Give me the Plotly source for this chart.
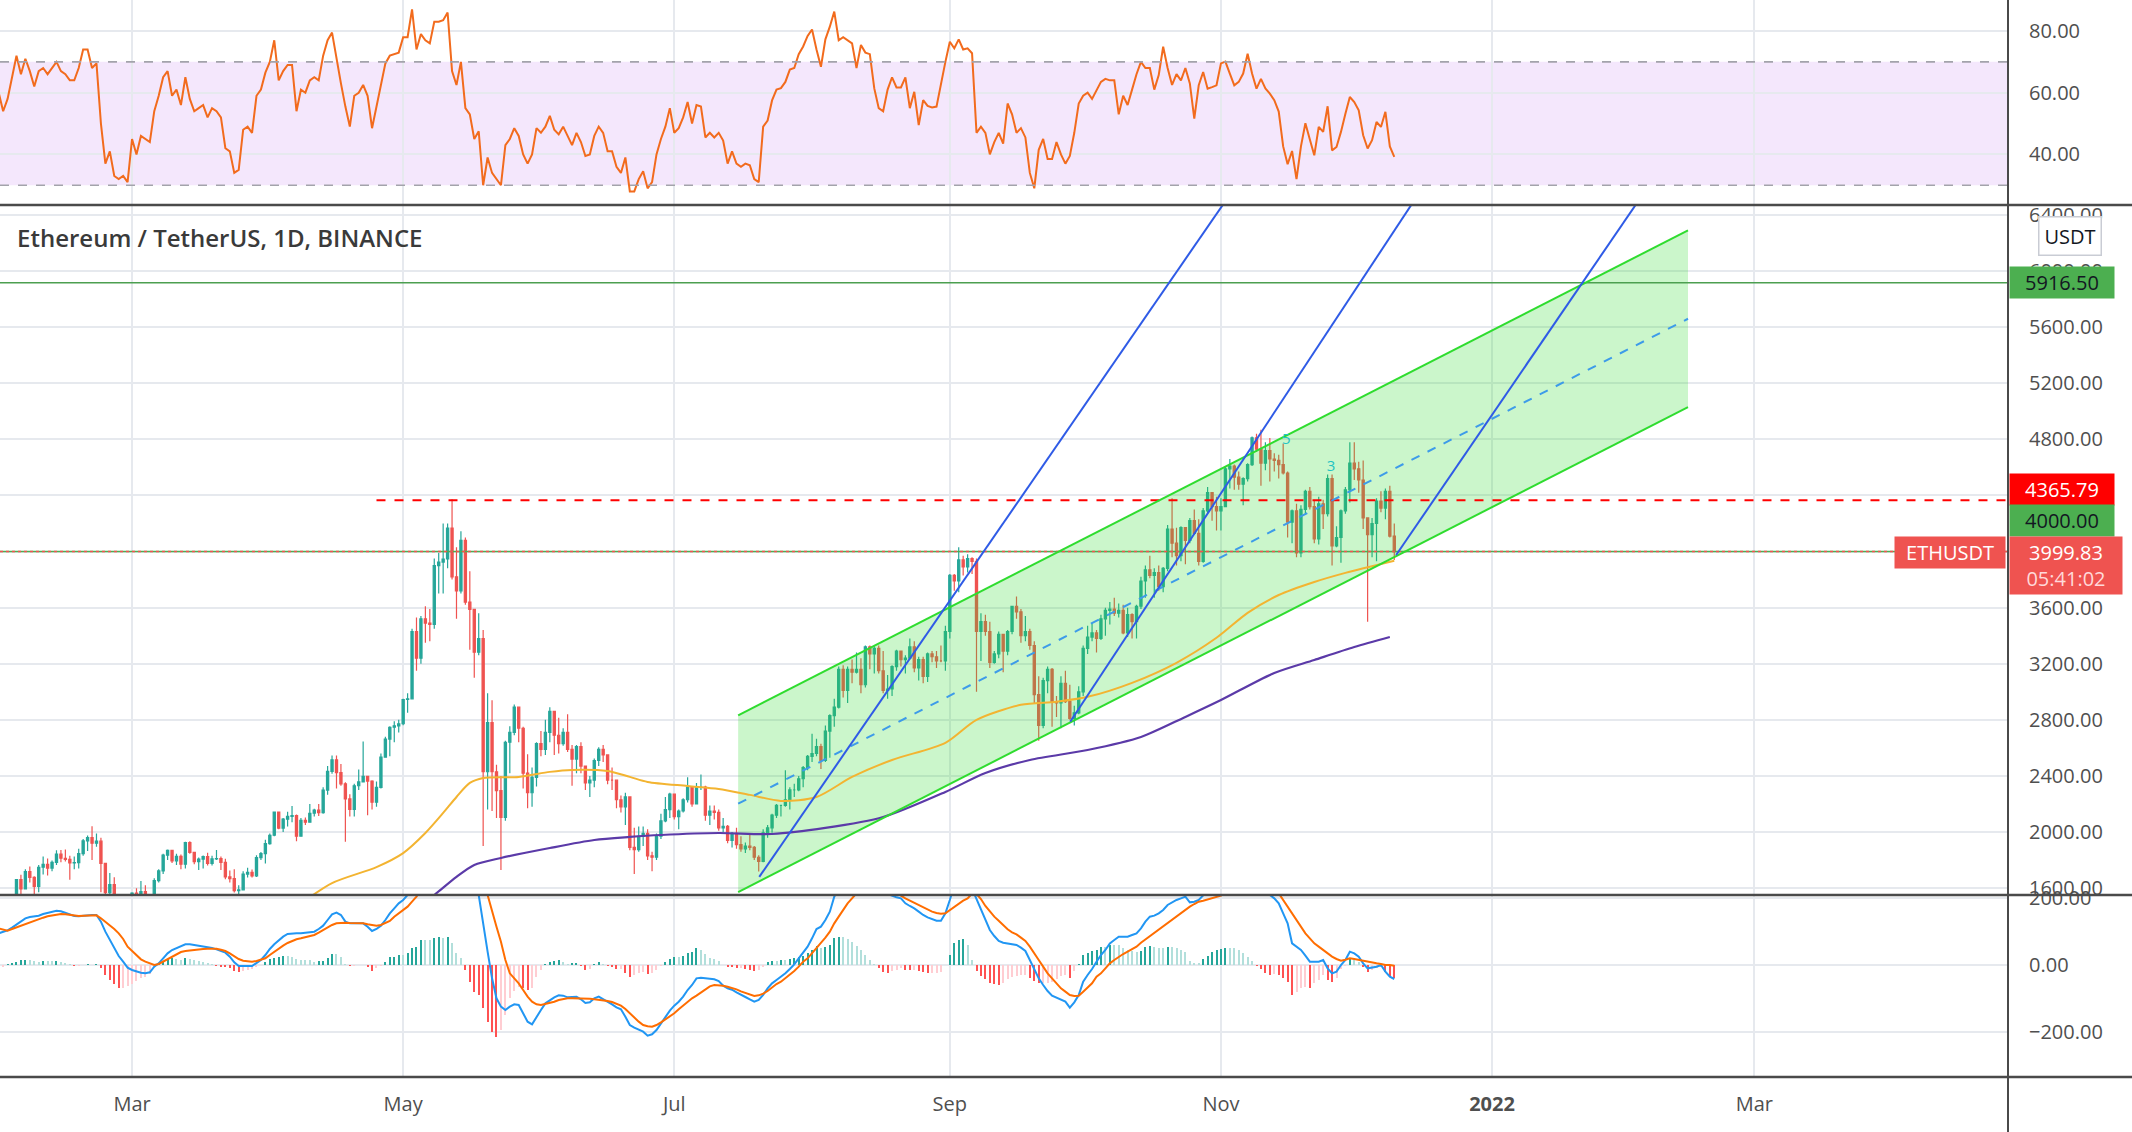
import pandas as pd
import plotly.graph_objects as go

W, H = 2132, 1132

# ---------------- candle data: ETH/USDT daily, 2021-01-30 .. 2021-12-10 ----------------
first_day = "2021-01-30"
last_day = "2021-12-10"
first_open = 1377.0

close = [
    # Jan 30 - Feb 28
    1382, 1314, 1369, 1515, 1660, 1594, 1718, 1677, 1613, 1749, 1769, 1743, 1784, 1842, 1813,
    1805, 1780, 1782, 1846, 1937, 1960, 1920, 1935, 1777, 1567, 1625, 1478, 1447, 1459, 1416,
    # Mar
    1564, 1493, 1575, 1541, 1533, 1654, 1723, 1835, 1869, 1795, 1826, 1771, 1924, 1855, 1789, 1807,
    1825, 1776, 1808, 1810, 1783, 1680, 1668, 1582, 1588, 1700, 1713, 1688, 1817, 1846, 1918,
    # Apr
    1977, 2142, 2028, 2092, 2112, 2118, 1970, 2084, 2070, 2134, 2156, 2139, 2299, 2432, 2515,
    2424, 2344, 2236, 2162, 2330, 2357, 2397, 2363, 2213, 2318, 2534, 2663, 2747, 2757, 2772,
    # May
    2945, 2950, 3430, 3240, 3520, 3490, 3480, 3900, 3925, 3947, 4168, 3820, 3720, 4080, 3640, 3588,
    3282, 3380, 2430, 2780, 2430, 2295, 2105, 2640, 2710, 2890, 2740, 2420, 2280, 2390, 2630,
    # Jun
    2590, 2710, 2860, 2690, 2630, 2710, 2590, 2520, 2610, 2470, 2350, 2370, 2510, 2590, 2550,
    2370, 2370, 2230, 2180, 2250, 1890, 1875, 1970, 1990, 1830, 1820, 1970, 2080, 2160, 2270,
    # Jul
    2110, 2150, 2230, 2320, 2200, 2320, 2320, 2120, 2150, 2140, 2030, 2040, 1940, 1990, 1910, 1880,
    1900, 1890, 1820, 1790, 1995, 2030, 2120, 2190, 2190, 2230, 2300, 2300, 2380, 2460, 2540,
    # Aug
    2560, 2610, 2510, 2720, 2830, 2890, 3160, 3010, 3160, 3140, 3160, 3050, 3320, 3270, 3310, 3150,
    3010, 3020, 3180, 3290, 3230, 3240, 3320, 3170, 3230, 3110, 3270, 3250, 3220, 3220, 3430,
    # Sep
    3830, 3790, 3940, 3890, 3950, 3930, 3430, 3500, 3430, 3210, 3270, 3410, 3290, 3430, 3610,
    3570, 3400, 3430, 3330, 2980, 2760, 3080, 3160, 2930, 2920, 3060, 2930, 2810, 2850, 3000,
    # Oct
    3310, 3390, 3420, 3380, 3520, 3580, 3590, 3560, 3580, 3420, 3550, 3500, 3610, 3790, 3870, 3830,
    3850, 3750, 3880, 4160, 4060, 3970, 4170, 4080, 4220, 4130, 3930, 4290, 4420, 4320, 4290,
    # Nov
    4320, 4590, 4610, 4530, 4480, 4520, 4620, 4810, 4730, 4630, 4720, 4660, 4650, 4620, 4560,
    4210, 4290, 3990, 4300, 4430, 4320, 4090, 4340, 4270, 4520, 4040, 4100, 4290, 4440, 4630,
    # Dec 1 - 10
    4590, 4510, 4240, 4120, 4200, 4360, 4310, 4430, 4110, 3999.83,
]
high = [
    1437, 1390, 1376, 1540, 1664, 1695, 1735, 1755, 1685, 1765, 1825, 1812, 1797, 1870, 1872,
    1875, 1830, 1825, 1880, 1950, 1975, 2042, 1990, 1960, 1780, 1708, 1677, 1548, 1530, 1472,
    1570, 1600, 1650, 1620, 1548, 1670, 1735, 1845, 1875, 1870, 1845, 1839, 1930, 1935, 1860, 1818,
    1832, 1852, 1830, 1872, 1825, 1810, 1725, 1735, 1620, 1720, 1745, 1733, 1835, 1858, 1945,
    1990, 2145, 2145, 2100, 2145, 2185, 2125, 2100, 2104, 2200, 2166, 2200, 2320, 2470, 2545,
    2545, 2485, 2355, 2270, 2345, 2445, 2645, 2395, 2370, 2360, 2560, 2680, 2755, 2790, 2800,
    2950, 2990, 3450, 3530, 3540, 3610, 3590, 3950, 3990, 4200, 4200, 4372, 4030, 4145, 4100, 3860,
    3590, 3560, 3440, 2990, 2940, 2480, 2400, 2650, 2755, 2910, 2890, 2750, 2555, 2460, 2640,
    2720, 2800, 2890, 2860, 2815, 2740, 2840, 2620, 2620, 2640, 2475, 2400, 2525, 2605, 2620,
    2555, 2460, 2370, 2260, 2280, 2250, 2030, 2040, 2040, 2020, 1860, 1990, 2130, 2250, 2280,
    2270, 2160, 2240, 2390, 2320, 2350, 2410, 2330, 2190, 2190, 2160, 2100, 2050, 2000, 2030, 1970,
    1925, 1990, 1900, 1835, 2020, 2050, 2130, 2200, 2195, 2440, 2320, 2345, 2400, 2470, 2550,
    2700, 2665, 2630, 2760, 2840, 2950, 3180, 3190, 3180, 3230, 3280, 3240, 3330, 3330, 3330, 3330,
    3290, 3120, 3190, 3300, 3280, 3260, 3380, 3360, 3250, 3250, 3280, 3290, 3290, 3330, 3470,
    3840, 3840, 4030, 3970, 3980, 3960, 3950, 3560, 3550, 3500, 3290, 3430, 3400, 3440, 3610,
    3680, 3590, 3540, 3450, 3360, 3110, 3100, 3180, 3170, 2970, 3110, 3150, 3050, 2900, 3040,
    3330, 3470, 3490, 3440, 3550, 3600, 3640, 3670, 3630, 3620, 3600, 3560, 3620, 3820, 3900, 3970,
    3880, 3900, 3890, 4190, 4380, 4170, 4180, 4150, 4240, 4300, 4230, 4310, 4460, 4420, 4390,
    4380, 4610, 4660, 4620, 4570, 4530, 4630, 4820, 4840, 4868, 4780, 4810, 4700, 4690, 4770,
    4570, 4300, 4340, 4330, 4440, 4460, 4370, 4390, 4370, 4550, 4550, 4180, 4300, 4460, 4780,
    4780, 4640, 4650, 4240, 4240, 4380, 4430, 4450, 4470, 4200,
]
low = [
    1320, 1270, 1300, 1366, 1507, 1540, 1595, 1640, 1550, 1570, 1697, 1690, 1720, 1765, 1785,
    1790, 1660, 1735, 1740, 1830, 1865, 1800, 1895, 1570, 1370, 1512, 1460, 1400, 1430, 1290,
    1412, 1460, 1490, 1500, 1440, 1500, 1640, 1700, 1800, 1780, 1765, 1735, 1740, 1845, 1770, 1730,
    1740, 1762, 1762, 1800, 1730, 1663, 1640, 1569, 1547, 1590, 1676, 1675, 1680, 1800, 1775,
    1910, 1970, 2020, 2000, 2040, 2070, 1935, 1970, 2050, 2070, 2110, 2115, 2130, 2265, 2415,
    2310, 2330, 1930, 2110, 2110, 2300, 2355, 2120, 2160, 2180, 2310, 2530, 2540, 2640, 2710,
    2762, 2850, 2950, 3150, 3200, 3350, 3360, 3450, 3700, 3700, 3880, 3800, 3520, 3700, 3620, 3300,
    3100, 3260, 1900, 2160, 2150, 2100, 1730, 2080, 2420, 2690, 2640, 2310, 2170, 2180, 2325,
    2540, 2550, 2640, 2550, 2560, 2615, 2570, 2330, 2420, 2420, 2300, 2250, 2320, 2470, 2500,
    2340, 2300, 2170, 2140, 2050, 1870, 1700, 1860, 1900, 1800, 1720, 1800, 1950, 2070, 2100,
    2090, 2020, 2140, 2210, 2180, 2200, 2300, 2080, 2050, 2090, 2010, 2000, 1920, 1890, 1880, 1860,
    1850, 1870, 1800, 1718, 1785, 1960, 1995, 2100, 2110, 2180, 2160, 2250, 2290, 2320, 2440,
    2500, 2540, 2450, 2500, 2530, 2750, 2880, 2960, 2920, 3060, 3130, 2990, 3030, 3160, 3130, 3130,
    2990, 2950, 2970, 3150, 3180, 3130, 3230, 3140, 3080, 3060, 3070, 3210, 3170, 3210, 3150,
    3380, 3720, 3710, 3830, 3850, 3840, 3000, 3220, 3400, 3170, 3200, 3240, 3140, 3260, 3410,
    3520, 3350, 3360, 3300, 2920, 2650, 2740, 2990, 2750, 2820, 2740, 2920, 2800, 2760, 2840,
    2970, 3270, 3360, 3280, 3370, 3400, 3480, 3540, 3530, 3410, 3390, 3380, 3380, 3590, 3670, 3810,
    3670, 3720, 3710, 3860, 3960, 3900, 3930, 3910, 4060, 4120, 3900, 3920, 4270, 4220, 4150,
    4150, 4320, 4450, 4440, 4440, 4330, 4500, 4610, 4710, 4470, 4580, 4500, 4570, 4520, 4550,
    4100, 4060, 3960, 3960, 4260, 4300, 4060, 4050, 4160, 4250, 3900, 4030, 3920, 4270, 4350,
    4510, 4420, 4160, 3500, 3960, 3930, 4280, 4230, 4100, 3940,
]

# ---------------- RSI ----------------
rsi = [
    60, 54, 58, 65, 72, 66, 71, 67, 62, 67, 68, 66, 68, 70, 67, 66, 64, 64, 68, 74, 74, 68, 69.5,
    50, 37, 41, 33, 32, 33, 31,
    45, 40, 46, 45, 44, 54, 59, 65, 67, 59, 61, 56, 65, 58, 54, 55, 56, 52, 55, 54, 52, 42, 41,
    34, 35, 48, 49, 47, 59, 61, 66.5,
    70, 77, 64, 67, 69, 69, 54, 61, 60, 64, 65, 64, 72, 77, 79.5, 71, 63, 55.5, 49, 59, 60, 62.5,
    59, 48.5, 55.5, 63.5, 69.5, 72, 72.5, 73,
    78, 78, 87, 74, 79, 77, 76, 83, 83, 83.5, 86, 67, 62.5, 70, 55, 53, 45, 47.5, 30, 39, 34, 32,
    30, 43, 45, 48.5, 46, 40, 37, 40, 48.5,
    47, 49, 52.5, 48, 46.5, 49, 46, 43, 47, 44, 39.5, 40, 46, 49, 47, 41, 41, 36, 34, 39, 28, 28,
    32, 34.5, 29, 31, 40, 45, 49, 55,
    47, 48.5, 52, 57, 50, 56, 55.5, 45.5, 47, 45.5, 47, 44.5, 37, 41, 37, 36, 37, 36.5, 32, 31,
    49, 51, 57.5, 61, 61.5, 63.5, 67.5, 68, 72.5, 75, 78.4,
    80.5, 74, 68.4, 77.3, 81.4, 86.3, 77, 78, 77, 76, 68, 75.5, 73, 72.5, 61.4, 55, 54, 61, 65,
    61.7, 61.7, 65, 55, 60.3, 49.5, 57.6, 55.7, 55.2, 55.5, 63, 70,
    76.5, 74.4, 77.3, 74, 74.4, 72.8, 47, 49, 47, 40, 44, 47, 43.5, 56.5, 53, 47, 48.5, 45.5, 34,
    29, 41.5, 45, 38.5, 38.5, 44, 40, 37, 39.5, 47, 56.5,
    59, 60, 58, 60.6, 63.5, 64.5, 64, 64, 53, 59, 56, 61, 66, 70, 68, 68, 61, 65.7, 74.9, 68, 62.5,
    66, 64, 68, 63, 51.6, 62.4, 66.7, 61.3, 61.8, 62.4,
    69.5, 70.1, 66.2, 62.4, 63.5, 66.2, 72.6, 66.2, 61.3, 64.5, 61.4, 59.7, 57.6, 53.9, 42.6, 36.8,
    41.1, 32, 42.6, 50.1, 44.8, 39.7, 48.9, 47.3, 55.6, 41.3, 42.4, 47.3, 53.2, 58.6,
    57, 54.3, 46.2, 41.9, 44.6, 50.5, 48.9, 53.8, 42.6, 39.2,
]

# ---------------- MACD ----------------
macd_line = [
    95, 100, 104, 112, 122, 132, 140, 144, 145, 148,
    153, 157, 160, 163, 161, 157, 153, 147, 146, 148,
    150, 150, 150, 130, 100, 75, 50, 27, 10, -8,
    -15, -20, -23, -25, -22, -5, 5, 20, 35, 45,
    50, 55, 62, 62, 60, 58, 56, 54, 51, 47,
    42, 37, 25, 8, -3, -4, -3, -3, 5, 15,
    30, 48, 62, 75, 85, 93, 95, 95, 95, 97,
    99, 100, 108, 118, 135, 152, 157, 150, 130, 125,
    125, 125, 125, 115, 102, 108, 118, 135, 155, 170,
    185, 195, 210, 240, 260, 300, 320, 340, 370, 400,
    420, 450, 450, 430, 420, 380, 330, 270, 210, 120,
    40, -40, -100, -125, -135, -125, -118, -120, -145, -170,
    -178, -155, -135, -115, -105, -97, -91, -92, -97, -96,
    -95, -103, -114, -112, -100, -95, -102, -110, -118, -127,
    -133, -155, -180, -188, -194, -200, -212, -208, -195, -175,
    -155, -137, -122, -110, -95, -75, -60, -40, -38, -40,
    -43, -43, -48, -62, -70, -74, -82, -88, -96, -103,
    -110, -105, -90, -70, -55, -45, -35, -25, -12, 2,
    20, 38, 55, 80, 108, 115, 135, 160, 205, 230,
    250, 262, 270, 272, 270, 262, 255, 245, 235, 222,
    213, 207, 203, 200, 185, 177, 170, 160, 150, 143,
    137, 133, 133, 155, 195, 240, 260, 270, 260, 230,
    195, 165, 135, 105, 87, 72, 67, 65, 63, 60,
    52, 42, 15, -15, -40, -60, -78, -92, -98, -103,
    -110, -128, -112, -90, -50, -30, -12, 10, 30, 45,
    65, 75, 85, 85, 85, 90, 95, 110, 130, 145,
    148, 155, 165, 180, 188, 195, 200, 205, 188, 190,
    195, 210, 225, 240, 250, 255, 265, 275, 285, 290,
    290, 285, 275, 260, 245, 225, 210, 200, 185, 155,
    125, 65, 55, 45, 28, 10, 10, 10, 15, -10,
    -25, -20, 0, 15, 40, 35, 25, 5, -10, -8,
    -5, 0, -20, -35, -42,
]
signal_line = [
    110, 106, 103, 108, 113, 118, 124, 129, 134, 138,
    142, 146, 149, 151, 153, 152, 150, 148, 147, 148,
    149, 150, 149, 140, 130, 120, 108, 95, 78, 55,
    42, 28, 17, 10, 4, 0, 3, 10, 18, 25,
    32, 39, 42, 44, 46, 47, 48, 49, 50, 49,
    46, 42, 35, 26, 18, 13, 11, 10, 12, 15,
    20, 30, 40, 50, 58, 66, 72, 77, 80, 83,
    85, 90, 97, 105, 113, 120, 125, 127, 127, 126,
    126, 125, 125, 122, 119, 118, 120, 125, 132, 145,
    155, 165, 175, 190, 205, 225, 245, 265, 290, 315,
    340, 365, 385, 395, 400, 395, 380, 350, 300, 250,
    210, 160, 115, 70, 15, -25, -40, -55, -75, -95,
    -110, -118, -120, -117, -115, -110, -105, -102, -100, -100,
    -100, -100, -100, -101, -103, -104, -105, -108, -111, -116,
    -122, -132, -145, -158, -170, -180, -184, -185, -180, -172,
    -163, -155, -145, -133, -122, -110, -100, -92, -82, -72,
    -64, -60, -60, -62, -65, -68, -73, -79, -84, -89,
    -93, -91, -86, -78, -67, -57, -50, -40, -30, -18,
    -5, 10, 20, 35, 50, 65, 82, 100, 125, 145,
    165, 185, 200, 215, 225, 233, 240, 243, 244, 242,
    236, 226, 217, 208, 200, 193, 186, 179, 172, 166,
    160, 156, 154, 155, 165, 175, 185, 193, 200, 214,
    213, 198, 177, 160, 145, 133, 120, 107, 98, 92,
    82, 72, 55, 33, 15, -5, -25, -40, -55, -70,
    -80, -90, -93, -92, -80, -67, -55, -35, -25, -10,
    5, 15, 25, 33, 40, 47, 55, 67, 77, 87,
    95, 105, 115, 125, 135, 145, 155, 165, 175, 183,
    190, 193, 197, 200, 204, 208, 215, 225, 235, 245,
    255, 260, 262, 262, 258, 250, 240, 228, 215, 195,
    175, 155, 135, 115, 95, 80, 65, 55, 45, 35,
    25, 18, 13, 16, 20, 18, 15, 12, 10, 8,
    5, 3, 0, 0, -2,
]

# ---------------- moving averages ----------------
ma100_dates = ["2021-04-08", "2021-04-15", "2021-04-25", "2021-05-01", "2021-05-06", "2021-05-10",
               "2021-05-13", "2021-05-16", "2021-05-19", "2021-05-27", "2021-06-03", "2021-06-08",
               "2021-06-16", "2021-06-21", "2021-06-25", "2021-07-04", "2021-07-11", "2021-07-18",
               "2021-07-25", "2021-08-02", "2021-08-10", "2021-08-19", "2021-08-31", "2021-09-07",
               "2021-09-17", "2021-09-25", "2021-10-02", "2021-10-12", "2021-10-22", "2021-10-31",
               "2021-11-07", "2021-11-14", "2021-11-22", "2021-11-29", "2021-12-10"]
ma100_vals = [1490, 1636, 1750, 1850, 1993, 2136, 2250, 2350, 2386, 2393, 2429, 2443, 2435, 2393,
              2357, 2328, 2307, 2265, 2222, 2250, 2393, 2514, 2636, 2800, 2907, 2929, 2964, 3064,
              3207, 3385, 3563, 3690, 3783, 3848, 3935]
ma200_dates = ["2021-05-05", "2021-05-08", "2021-05-13", "2021-05-17", "2021-05-23", "2021-06-03",
               "2021-06-13", "2021-06-21", "2021-06-28", "2021-07-11", "2021-07-23", "2021-08-04",
               "2021-08-17", "2021-08-31", "2021-09-09", "2021-09-19", "2021-10-02", "2021-10-14",
               "2021-10-24", "2021-11-01", "2021-11-13", "2021-11-22", "2021-12-01", "2021-12-09"]
ma200_vals = [1480, 1551, 1680, 1765, 1815, 1886, 1943, 1965, 1979, 1993, 1986, 2029, 2107, 2286,
              2421, 2514, 2585, 2678, 2821, 2941, 3134, 3227, 3319, 3391]

# ---------------- drawings ----------------
channel_dates = ["2021-07-15 09:00", "2022-02-14 02:00"]
channel_lower = [1572, 5030]
channel_upper = [2832, 6290]
channel_mid = [2202, 5660]

trend_x0 = ["2021-07-20 03:00", "2021-09-28 02:00", "2021-12-10 10:00"]
trend_y0 = [1680, 2786, 3975]
trend_x1 = ["2021-11-03 08:00", "2021-12-15 16:00", "2022-02-04 05:00"]
trend_y1 = [6560, 6560, 6560]

resistance_level = 4365.79
resistance_start = "2021-04-25"
target_level = 5916.50
support_level = 4000.00
last_price = 3999.83
countdown = "05:41:02"
wave_text = ["5", "3"]
wave_dates = ["2021-11-15 17:00", "2021-11-25 19:00"]
wave_prices = [4795, 4602]

month_ticks = ["2021-03-01", "2021-05-01", "2021-07-01", "2021-09-01", "2021-11-01",
               "2022-01-01", "2022-03-01"]
month_labels = ["Mar", "May", "Jul", "Sep", "Nov", "<b>2022</b>", "Mar"]
price_ticks = [1600, 2000, 2400, 2800, 3200, 3600, 4000, 4400, 4800, 5200, 5600, 6000, 6400]
rsi_ticks = [40, 60, 80]
macd_ticks = [-200, 0, 200]

# ---------------- build ----------------
dates = pd.date_range(first_day, last_day, freq="D")
n = len(dates)
for name, arr in [("close", close), ("high", high), ("low", low), ("rsi", rsi),
                  ("macd", macd_line), ("signal", signal_line)]:
    if len(arr) != n:
        raise ValueError(f"{name} has {len(arr)} values, expected {n}")

opens = [first_open] + close[:-1]
highs = [max(h, o, c) for h, o, c in zip(high, opens, close)]
lows = [min(l, o, c) for l, o, c in zip(low, opens, close)]

hist = [m - s for m, s in zip(macd_line, signal_line)]
hist_colors = []
prev = 0
for hv in hist:
    if hv >= 0:
        hist_colors.append("#26a69a" if hv > prev else "#b2dfdb")
    else:
        hist_colors.append("#ff5252" if hv < prev else "#ffcdd2")
    prev = hv

FONT = "Open Sans"
TXT = "#4f4f4f"
GRID = "#e6e9ee"
x_range = ["2021-01-30 07:00", "2022-04-27 02:00"]
XR = 2008 / W


def py(px):
    return 1 - px / H


d_rsi = [py(205), 1.0]
d_main = [py(895), py(205)]
d_macd = [py(1077), py(895)]

fig = go.Figure()

# channel fill
fig.add_trace(go.Scatter(
    x=[channel_dates[0], channel_dates[1], channel_dates[1], channel_dates[0], channel_dates[0]],
    y=[channel_lower[0], channel_lower[1], channel_upper[1], channel_upper[0], channel_lower[0]],
    fill="toself", fillcolor="rgba(47,220,47,0.25)", line=dict(width=0), mode="lines",
    xaxis="x2", yaxis="y", hoverinfo="skip"))

# horizontal levels
fig.add_trace(go.Scatter(x=[x_range[0], x_range[1]], y=[target_level, target_level], mode="lines",
                         line=dict(color="#4c9f50", width=1.6), xaxis="x2", yaxis="y"))
fig.add_trace(go.Scatter(x=[x_range[0], x_range[1]], y=[support_level, support_level], mode="lines",
                         line=dict(color="#4caf50", width=1.4), xaxis="x2", yaxis="y"))
fig.add_trace(go.Scatter(x=[x_range[0], x_range[1]], y=[last_price, last_price], mode="lines",
                         line=dict(color="#ef5350", width=1.4, dash="dot"), xaxis="x2", yaxis="y"))
fig.add_trace(go.Scatter(x=[resistance_start, x_range[1]], y=[resistance_level, resistance_level],
                         mode="lines", line=dict(color="#ff0000", width=2.2, dash="dash"),
                         xaxis="x2", yaxis="y"))

# candles
fig.add_trace(go.Candlestick(
    x=dates, open=opens, high=highs, low=lows, close=close,
    increasing=dict(line=dict(color="#26a69a", width=1.2), fillcolor="#26a69a"),
    decreasing=dict(line=dict(color="#ef5350", width=1.2), fillcolor="#ef5350"),
    whiskerwidth=0, xaxis="x2", yaxis="y", hoverinfo="skip"))

# moving averages
fig.add_trace(go.Scatter(x=pd.to_datetime(ma100_dates), y=ma100_vals, mode="lines",
                         line=dict(color="#f3b431", width=2, shape="spline", smoothing=0.8),
                         xaxis="x2", yaxis="y"))
fig.add_trace(go.Scatter(x=pd.to_datetime(ma200_dates), y=ma200_vals, mode="lines",
                         line=dict(color="#5b3aa8", width=2.2, shape="spline", smoothing=0.8),
                         xaxis="x2", yaxis="y"))

# channel lines
fig.add_trace(go.Scatter(x=channel_dates, y=channel_lower, mode="lines",
                         line=dict(color="#2fdc2f", width=2), xaxis="x2", yaxis="y"))
fig.add_trace(go.Scatter(x=channel_dates, y=channel_upper, mode="lines",
                         line=dict(color="#2fdc2f", width=2), xaxis="x2", yaxis="y"))
fig.add_trace(go.Scatter(x=channel_dates, y=channel_mid, mode="lines",
                         line=dict(color="#3d9be9", width=2, dash="dash"), xaxis="x2", yaxis="y"))

# trend lines
for a, b, c, d in zip(trend_x0, trend_y0, trend_x1, trend_y1):
    fig.add_trace(go.Scatter(x=[a, c], y=[b, d], mode="lines",
                             line=dict(color="#2f5be6", width=2), xaxis="x2", yaxis="y"))

# wave labels
fig.add_trace(go.Scatter(x=pd.to_datetime(wave_dates), y=wave_prices, mode="text", text=wave_text,
                         textfont=dict(color="#1fc3c3", size=15, family=FONT),
                         xaxis="x2", yaxis="y"))

# RSI
fig.add_trace(go.Scatter(x=dates, y=rsi, mode="lines", line=dict(color="#f26b1d", width=2),
                         xaxis="x3", yaxis="y2"))

# MACD
fig.add_trace(go.Bar(x=dates, y=hist, marker=dict(color=hist_colors, line=dict(width=0)),
                     width=0.45 * 86400000, xaxis="x", yaxis="y3"))
fig.add_trace(go.Scatter(x=dates, y=macd_line, mode="lines", line=dict(color="#2196f3", width=2),
                         xaxis="x", yaxis="y3"))
fig.add_trace(go.Scatter(x=dates, y=signal_line, mode="lines", line=dict(color="#ff6d00", width=2),
                         xaxis="x", yaxis="y3"))

xcommon = dict(type="date", range=x_range, tickmode="array", tickvals=month_ticks,
               showgrid=True, gridcolor=GRID, gridwidth=1.5, zeroline=False, showline=False,
               ticks="", rangeslider=dict(visible=False), domain=[0, XR], automargin=False)
ycommon = dict(side="right", showgrid=True, gridcolor=GRID, gridwidth=1.5, zeroline=False,
               showline=False, ticks="", tickformat=".2f", ticklabelstandoff=20,
               tickfont=dict(family=FONT, size=20, color=TXT), tickmode="array",
               automargin=False)

fig.update_layout(
    width=W, height=H, margin=dict(l=0, r=0, t=0, b=0, pad=0), autosize=False,
    paper_bgcolor="white", plot_bgcolor="white", showlegend=False,
    font=dict(family=FONT, color=TXT),
    xaxis=dict(xcommon, anchor="y3", ticktext=month_labels, showticklabels=True,
               tickfont=dict(family=FONT, size=20, color=TXT), ticklabelstandoff=13),
    xaxis2=dict(xcommon, anchor="y", matches="x", showticklabels=False),
    xaxis3=dict(xcommon, anchor="y2", matches="x", showticklabels=False),
    yaxis=dict(ycommon, domain=d_main, range=[1551, 6471], anchor="x2", tickvals=price_ticks),
    yaxis2=dict(ycommon, domain=d_rsi, range=[23.6, 90.05], anchor="x3", tickvals=rsi_ticks),
    yaxis3=dict(ycommon, domain=d_macd, range=[-336, 210], anchor="x", tickvals=macd_ticks),
    bargap=0,
)

shapes = []
# RSI band and bounds
shapes.append(dict(type="rect", xref="paper", yref="y2", x0=0, x1=XR, y0=30, y1=70,
                   fillcolor="rgba(175,82,235,0.14)", line=dict(width=0), layer="between"))
for lvl in (30, 70):
    shapes.append(dict(type="line", xref="paper", yref="y2", x0=0, x1=XR, y0=lvl, y1=lvl,
                       line=dict(color="#a3a3ab", width=1.6, dash="dash"), layer="above"))
# pane separators
for ypx in (205, 895, 1077):
    shapes.append(dict(type="line", xref="paper", yref="paper", x0=0, x1=1, y0=py(ypx), y1=py(ypx),
                       line=dict(color="#4a4a4a", width=2.5), layer="above"))
shapes.append(dict(type="line", xref="paper", yref="paper", x0=XR, x1=XR, y0=0, y1=1,
                   line=dict(color="#4a4a4a", width=2), layer="above"))
fig.update_layout(shapes=shapes)

ann = []
ann.append(dict(text="Ethereum / TetherUS, 1D, BINANCE", xref="paper", yref="paper",
                x=15 / W, y=py(238), xanchor="left", yanchor="middle", showarrow=False,
                font=dict(family=FONT, size=24, color="#3a3a3a", weight=600)))
ann.append(dict(text="USDT", xref="paper", yref="paper", x=2070 / W, y=py(236), xanchor="center",
                yanchor="middle", showarrow=False, bgcolor="white", bordercolor="#c9ccd4",
                borderwidth=1.5, borderpad=5, font=dict(family=FONT, size=20, color="#131722")))
lab_x = 2009 / W
ann.append(dict(text="5916.50", xref="paper", yref="y", x=lab_x, y=target_level, xanchor="left",
                yanchor="middle", showarrow=False, bgcolor="#4caf50", width=102, height=29,
                borderpad=1, font=dict(family=FONT, size=20, color="#131722")))
ann.append(dict(text="4365.79", xref="paper", yref="y", x=lab_x, y=resistance_level, yshift=11,
                xanchor="left", yanchor="middle", showarrow=False, bgcolor="#ff0000", width=102,
                height=29, borderpad=1, font=dict(family=FONT, size=20, color="white")))
ann.append(dict(text="4000.00", xref="paper", yref="y", x=lab_x, y=support_level, yshift=31,
                xanchor="left", yanchor="middle", showarrow=False, bgcolor="#4caf50", width=102,
                height=29, borderpad=1, font=dict(family=FONT, size=20, color="#131722")))
ann.append(dict(text=f"{last_price:.2f}<br><span style='color:#ffd9d9'>{countdown}</span>",
                xref="paper", yref="y", x=lab_x, y=last_price, yshift=-14, xanchor="left",
                yanchor="middle", showarrow=False, bgcolor="#ef5350", width=110, height=55,
                borderpad=1, font=dict(family=FONT, size=20, color="white")))
ann.append(dict(text="ETHUSDT", xref="paper", yref="y", x=2006 / W, y=last_price, yshift=-1,
                xanchor="right", yanchor="middle", showarrow=False, bgcolor="#ef5350", width=108,
                height=29, borderpad=1, font=dict(family=FONT, size=20, color="white")))
fig.update_layout(annotations=ann)

fig.write_html("out.html")
